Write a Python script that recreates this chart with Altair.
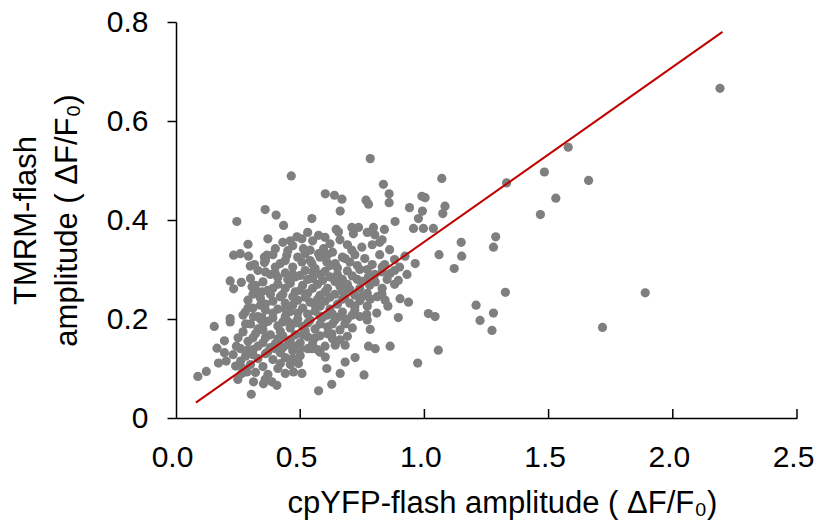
import altair as alt
import pandas as pd

# ---- individually readable points (cpYFP amplitude, TMRM amplitude) ----
upper_pts = [
    (0.245, 0.397), (0.359, 0.421), (0.464, 0.489), (0.601, 0.453), (0.638, 0.450),
    (0.668, 0.442), (0.403, 0.410), (0.433, 0.389), (0.547, 0.403), (0.661, 0.418),
    (0.645, 0.381), (0.708, 0.385), (0.735, 0.385), (0.782, 0.524), (1.070, 0.484),
    (0.835, 0.472), (0.858, 0.453), (0.858, 0.435), (0.765, 0.440), (0.775, 0.432),
    (0.990, 0.448), (1.003, 0.445), (0.940, 0.425), (0.992, 0.418), (0.976, 0.403),
    (1.083, 0.428), (1.074, 0.413), (0.882, 0.397), (0.795, 0.385), (0.839, 0.381),
    (0.956, 0.383), (0.996, 0.383), (1.036, 0.383),
]
right_pts = [
    (1.579, 0.547), (1.483, 0.497), (1.661, 0.480), (1.331, 0.475), (1.529, 0.444),
    (1.467, 0.411), (1.148, 0.355), (1.287, 0.366), (1.278, 0.345), (1.150, 0.327),
    (1.326, 0.254), (1.889, 0.253), (1.208, 0.228), (1.278, 0.212), (1.224, 0.197),
    (1.272, 0.177), (1.717, 0.183), (2.190, 0.666),
]
mid_right_pts = [
    (1.059, 0.330), (1.120, 0.302), (0.963, 0.312), (0.922, 0.327), (0.902, 0.241),
    (0.936, 0.234), (0.829, 0.251), (0.842, 0.238), (0.782, 0.240), (0.853, 0.226),
    (0.808, 0.212), (0.895, 0.203), (1.016, 0.211), (1.043, 0.205), (0.768, 0.209),
    (0.862, 0.292), (0.895, 0.278), (0.774, 0.285), (0.802, 0.275),
    (0.800, 0.370), (0.830, 0.360), (0.790, 0.350), (0.860, 0.340), (0.820, 0.330),
    (0.880, 0.320), (0.840, 0.310), (0.900, 0.305), (0.930, 0.290), (0.790, 0.310),
    (0.830, 0.295), (0.770, 0.375), (0.820, 0.355),
]
lower_pts = [
    (0.782, 0.179), (0.775, 0.145), (0.802, 0.140), (0.862, 0.145), (1.056, 0.137),
    (0.973, 0.111), (0.757, 0.087), (0.574, 0.055), (0.627, 0.068), (0.661, 0.090),
    (0.607, 0.100), (0.681, 0.113), (0.721, 0.122), (0.386, 0.073), (0.406, 0.066),
    (0.359, 0.078), (0.440, 0.090), (0.473, 0.093), (0.507, 0.090), (0.493, 0.110),
    (0.547, 0.140), (0.580, 0.133), (0.601, 0.123), (0.641, 0.147), (0.681, 0.147),
    (0.627, 0.170),
]
left_pts = [
    (0.154, 0.185), (0.218, 0.194), (0.088, 0.084), (0.122, 0.094), (0.165, 0.141),
    (0.195, 0.132), (0.195, 0.156), (0.171, 0.111), (0.202, 0.115), (0.243, 0.145),
    (0.249, 0.078), (0.303, 0.048), (0.312, 0.073), (0.352, 0.069), (0.265, 0.090),
    (0.286, 0.093), (0.290, 0.351), (0.232, 0.329), (0.259, 0.332), (0.292, 0.327),
    (0.299, 0.307), (0.316, 0.310), (0.356, 0.325), (0.356, 0.314), (0.218, 0.277),
    (0.232, 0.261), (0.263, 0.274), (0.306, 0.265), (0.319, 0.255), (0.346, 0.255),
    (0.279, 0.214), (0.218, 0.201), (0.312, 0.205), (0.346, 0.203),
]
center_top_pts = [
    (0.487, 0.366), (0.507, 0.362), (0.574, 0.369), (0.654, 0.376), (0.714, 0.372),
    (0.366, 0.329), (0.446, 0.329), (0.513, 0.342), (0.540, 0.339), (0.594, 0.342),
    (0.574, 0.332), (0.507, 0.315), (0.547, 0.312), (0.607, 0.315), (0.641, 0.312),
    (0.681, 0.322), (0.708, 0.339), (0.748, 0.345), (0.400, 0.292), (0.480, 0.285),
]
# ---- dense core (estimated, overlapping points) ----
core_a = [
    (0.37, 0.362), (0.43, 0.355), (0.47, 0.348), (0.55, 0.358), (0.62, 0.352),
    (0.66, 0.360), (0.69, 0.350), (0.40, 0.342), (0.45, 0.338), (0.52, 0.332),
    (0.58, 0.325), (0.63, 0.335), (0.72, 0.330), (0.76, 0.322),
]
core_b = [
    (0.36, 0.318), (0.42, 0.312), (0.47, 0.305), (0.52, 0.298), (0.56, 0.302),
    (0.60, 0.296), (0.65, 0.303), (0.69, 0.297), (0.73, 0.308), (0.77, 0.300),
    (0.83, 0.305), (0.88, 0.298), (0.33, 0.298), (0.38, 0.290), (0.44, 0.293),
    (0.50, 0.288), (0.55, 0.282), (0.62, 0.285), (0.67, 0.280), (0.71, 0.287),
    (0.75, 0.276), (0.80, 0.290),
]
core_c = [
    (0.30, 0.282), (0.35, 0.275), (0.41, 0.270), (0.46, 0.272), (0.51, 0.268),
    (0.57, 0.270), (0.61, 0.262), (0.66, 0.266), (0.70, 0.260), (0.74, 0.262),
    (0.78, 0.268), (0.83, 0.262), (0.88, 0.270), (0.37, 0.258), (0.43, 0.250),
    (0.48, 0.255), (0.53, 0.252), (0.58, 0.248), (0.64, 0.250), (0.68, 0.245),
    (0.72, 0.248), (0.77, 0.252),
]
core_d = [
    (0.29, 0.238), (0.34, 0.242), (0.39, 0.236), (0.44, 0.232), (0.49, 0.238),
    (0.54, 0.234), (0.60, 0.236), (0.65, 0.230), (0.70, 0.232), (0.74, 0.237),
    (0.31, 0.222), (0.36, 0.218), (0.41, 0.220), (0.46, 0.215), (0.51, 0.222),
    (0.56, 0.216), (0.62, 0.220), (0.67, 0.214), (0.72, 0.218), (0.27, 0.208),
    (0.33, 0.205), (0.39, 0.202), (0.44, 0.205), (0.49, 0.200), (0.54, 0.198),
    (0.59, 0.203), (0.64, 0.198), (0.69, 0.200), (0.74, 0.205),
]
core_e = [
    (0.30, 0.190), (0.35, 0.188), (0.41, 0.186), (0.46, 0.182), (0.51, 0.185),
    (0.56, 0.180), (0.61, 0.184), (0.66, 0.178), (0.71, 0.182), (0.27, 0.174),
    (0.32, 0.170), (0.38, 0.168), (0.43, 0.166), (0.48, 0.168), (0.53, 0.164),
    (0.58, 0.166), (0.63, 0.160), (0.69, 0.165), (0.29, 0.155), (0.35, 0.152),
    (0.40, 0.150), (0.45, 0.148), (0.50, 0.152), (0.55, 0.150), (0.60, 0.145),
    (0.26, 0.140), (0.31, 0.138), (0.37, 0.134), (0.42, 0.132), (0.47, 0.136),
]
core_f = [
    (0.28, 0.125), (0.33, 0.120), (0.39, 0.118), (0.44, 0.122), (0.50, 0.126),
    (0.30, 0.108), (0.35, 0.104), (0.41, 0.100), (0.46, 0.108), (0.26, 0.115),
    (0.23, 0.128),
]
core_g = [
    (0.39, 0.330), (0.44, 0.318), (0.49, 0.325), (0.54, 0.318), (0.61, 0.330),
    (0.67, 0.325), (0.70, 0.315), (0.74, 0.300), (0.46, 0.358), (0.60, 0.365),
    (0.53, 0.375),
]
core_h = [
    (0.32, 0.268), (0.36, 0.295), (0.41, 0.284), (0.47, 0.290), (0.53, 0.280),
    (0.58, 0.290), (0.64, 0.276), (0.69, 0.270), (0.73, 0.280), (0.79, 0.278),
    (0.85, 0.280), (0.39, 0.262), (0.44, 0.262), (0.50, 0.258), (0.55, 0.262),
    (0.60, 0.255), (0.67, 0.256), (0.75, 0.245), (0.81, 0.245),
]
core_i = [
    (0.31, 0.250), (0.36, 0.230), (0.42, 0.245), (0.47, 0.245), (0.52, 0.244),
    (0.57, 0.240), (0.62, 0.244), (0.67, 0.240), (0.72, 0.226), (0.77, 0.226),
    (0.29, 0.222), (0.34, 0.228), (0.39, 0.212), (0.44, 0.220), (0.49, 0.212),
    (0.53, 0.210), (0.58, 0.226), (0.61, 0.208), (0.66, 0.205), (0.71, 0.208),
    (0.77, 0.198),
]
core_j = [
    (0.28, 0.190), (0.33, 0.180), (0.37, 0.195), (0.43, 0.194), (0.48, 0.192),
    (0.53, 0.192), (0.58, 0.190), (0.63, 0.190), (0.68, 0.190), (0.25, 0.162),
    (0.31, 0.162), (0.36, 0.162), (0.41, 0.160), (0.46, 0.158), (0.51, 0.168),
    (0.56, 0.162), (0.61, 0.170), (0.66, 0.158), (0.33, 0.145), (0.38, 0.142),
    (0.43, 0.142), (0.48, 0.145), (0.53, 0.140), (0.57, 0.138),
]
core_k = [
    (0.27, 0.100), (0.32, 0.092), (0.37, 0.088), (0.42, 0.110), (0.47, 0.120),
    (0.36, 0.130), (0.31, 0.128), (0.24, 0.105), (0.29, 0.138),
]
core_l = [
    (0.34, 0.200), (0.42, 0.175), (0.52, 0.176), (0.58, 0.206), (0.63, 0.210),
    (0.47, 0.228), (0.38, 0.250), (0.56, 0.228), (0.65, 0.290), (0.62, 0.308),
    (0.40, 0.305), (0.45, 0.280), (0.55, 0.295), (0.59, 0.278), (0.35, 0.178),
    (0.45, 0.195), (0.40, 0.140), (0.50, 0.140),
]

# regression line end points
line_x = [0.08, 2.2]
line_y = [0.031, 0.78]

x_ticks = [0.0, 0.5, 1.0, 1.5, 2.0, 2.5]
y_ticks = [0.0, 0.2, 0.4, 0.6, 0.8]

groups = [upper_pts, right_pts, mid_right_pts, lower_pts, left_pts,
          center_top_pts, core_a, core_b, core_c, core_d, core_e, core_f,
          core_g, core_h, core_i, core_j, core_k, core_l]
pts = [p for g in groups for p in g]
df = pd.DataFrame(pts, columns=["cpYFP", "TMRM"])
line_df = pd.DataFrame({"cpYFP": line_x, "TMRM": line_y})
tick_df = pd.DataFrame({"t": x_ticks[1:]})

FONT = "Liberation Sans"
W, H = 621, 396

x_scale = alt.Scale(domain=[0, 2.5], nice=False, zero=False)
y_scale = alt.Scale(domain=[0, 0.8], nice=False, zero=False)

x_axis = alt.Axis(
    values=x_ticks, format=".1f", grid=False, ticks=False, tickSize=0,
    labelFlush=False, labelOverlap=False, labelOffset=-4,
    labelPadding=24, labelFontSize=30, labelFont=FONT, labelColor="#000000",
    domainColor="#000000", domainWidth=1.5,
    title="cpYFP-flash amplitude ( ΔF/F₀)", titleFont=FONT, titleFontSize=31,
    titleFontWeight="normal", titleColor="#000000", titlePadding=16, titleX=326,
)
y_axis = alt.Axis(
    values=y_ticks, labelExpr="datum.value == 0 ? '0' : format(datum.value, '.1f')",
    labelFlush=False, labelOverlap=False,
    grid=False, ticks=True, tickSize=9, tickWidth=1.5, tickColor="#000000",
    labelPadding=19, labelFontSize=30, labelFont=FONT, labelColor="#000000",
    domainColor="#000000", domainWidth=1.5,
    title=["TMRM-flash", "amplitude ( ΔF/F₀)"], titleFont=FONT, titleFontSize=31,
    titleFontWeight="normal", titleColor="#000000", titlePadding=23,
    titleLineHeight=41,
)

points = alt.Chart(df).mark_circle(size=85, color="#7f7f7f", opacity=1).encode(
    x=alt.X("cpYFP:Q", scale=x_scale, axis=x_axis),
    y=alt.Y("TMRM:Q", scale=y_scale, axis=y_axis),
)
reg = alt.Chart(line_df).mark_line(color="#c00000", strokeWidth=2).encode(
    x=alt.X("cpYFP:Q", scale=x_scale),
    y=alt.Y("TMRM:Q", scale=y_scale),
)
xticks = alt.Chart(tick_df).mark_rule(color="#000000", strokeWidth=1.5).encode(
    x=alt.X("t:Q", scale=x_scale),
    y=alt.value(H),
    y2=alt.value(H - 9),
)

chart = alt.layer(points, xticks, reg).properties(
    width=W, height=H,
    padding={"left": 176, "top": 22, "right": 20, "bottom": 104},
    autosize=alt.AutoSizeParams(type="none"),
).configure_view(stroke=None)

chart.save("out.html", embed_options={"renderer": "svg", "actions": False})
